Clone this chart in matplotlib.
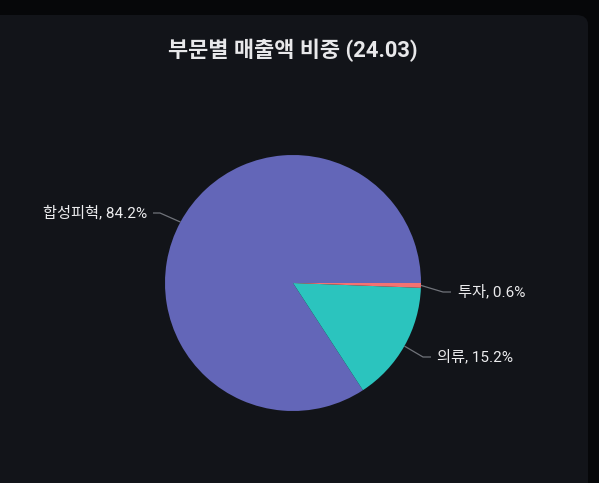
import numpy as np
import matplotlib.pyplot as plt
from matplotlib.patches import FancyBboxPatch

plt.rcParams['font.family'] = ['Roboto', 'Noto Sans CJK KR', 'DejaVu Sans']

# data
labels = ['합성피혁', '의류', '투자']
shares = [84.2, 15.2, 0.6]
colors = ['#6366b8', '#2bc4be', '#f47272']
title = '부문별 매출액 비중 (24.03)'

W, H = 599, 483
fig = plt.figure(figsize=(W / 100, H / 100), dpi=100)
fig.patch.set_facecolor('#060709')

# rounded panel
panel = FancyBboxPatch((-20 / W, -20 / H), 608 / W, (H - 15 + 20) / H,
                       boxstyle='round,pad=0,rounding_size=0.02',
                       transform=fig.transFigure, facecolor='#121419',
                       edgecolor='none', zorder=-5)
fig.patches.append(panel)

fig.text(293 / W, 1 - 50 / H, title, ha='center', va='center',
         fontsize=15.8, fontweight='bold', color='#e8e8ea')

# pie axes: center (293, 283) px, radius 128 px
R = 128
lim = 2.0
side = 2 * lim * R
ax = fig.add_axes([(293 - lim * R) / W, (H - 283 - lim * R) / H, side / W, side / H])
ax.set_zorder(2)

wedges, _ = ax.pie(shares, colors=colors, startangle=0, counterclock=True,
                   radius=1, wedgeprops=dict(linewidth=0))
ax.set_xlim(-lim, lim)
ax.set_ylim(-lim, lim)
ax.set_aspect('equal')
ax.axis('off')

def px(x, y):
    return (x - 293) / R, (283 - y) / R

# leader elbow / end / text positions in pixels (layout)
layout = {
    '합성피혁': ((160, 213), (153, 213), (147, 213), 'right'),
    '의류': ((423, 357), (431, 357), (437, 357), 'left'),
    '투자': ((443, 292), (451, 292), (458, 292), 'left'),
}

for w, lab, val in zip(wedges, labels, shares):
    mid = np.deg2rad((w.theta1 + w.theta2) / 2)
    p0 = (np.cos(mid), np.sin(mid))
    elbow, end, txt, ha = layout[lab]
    p1 = px(*elbow)
    p2 = px(*end)
    ax.plot([p0[0], p1[0], p2[0]], [p0[1], p1[1], p2[1]],
            color='#70737a', lw=0.9, solid_capstyle='butt', zorder=1)
    tx, ty = px(*txt)
    ax.text(tx, ty, f'{lab}, {val}%', ha=ha, va='center',
            fontsize=11, color='#ececee')

fig.savefig('out.png', dpi=100, facecolor=fig.get_facecolor())
